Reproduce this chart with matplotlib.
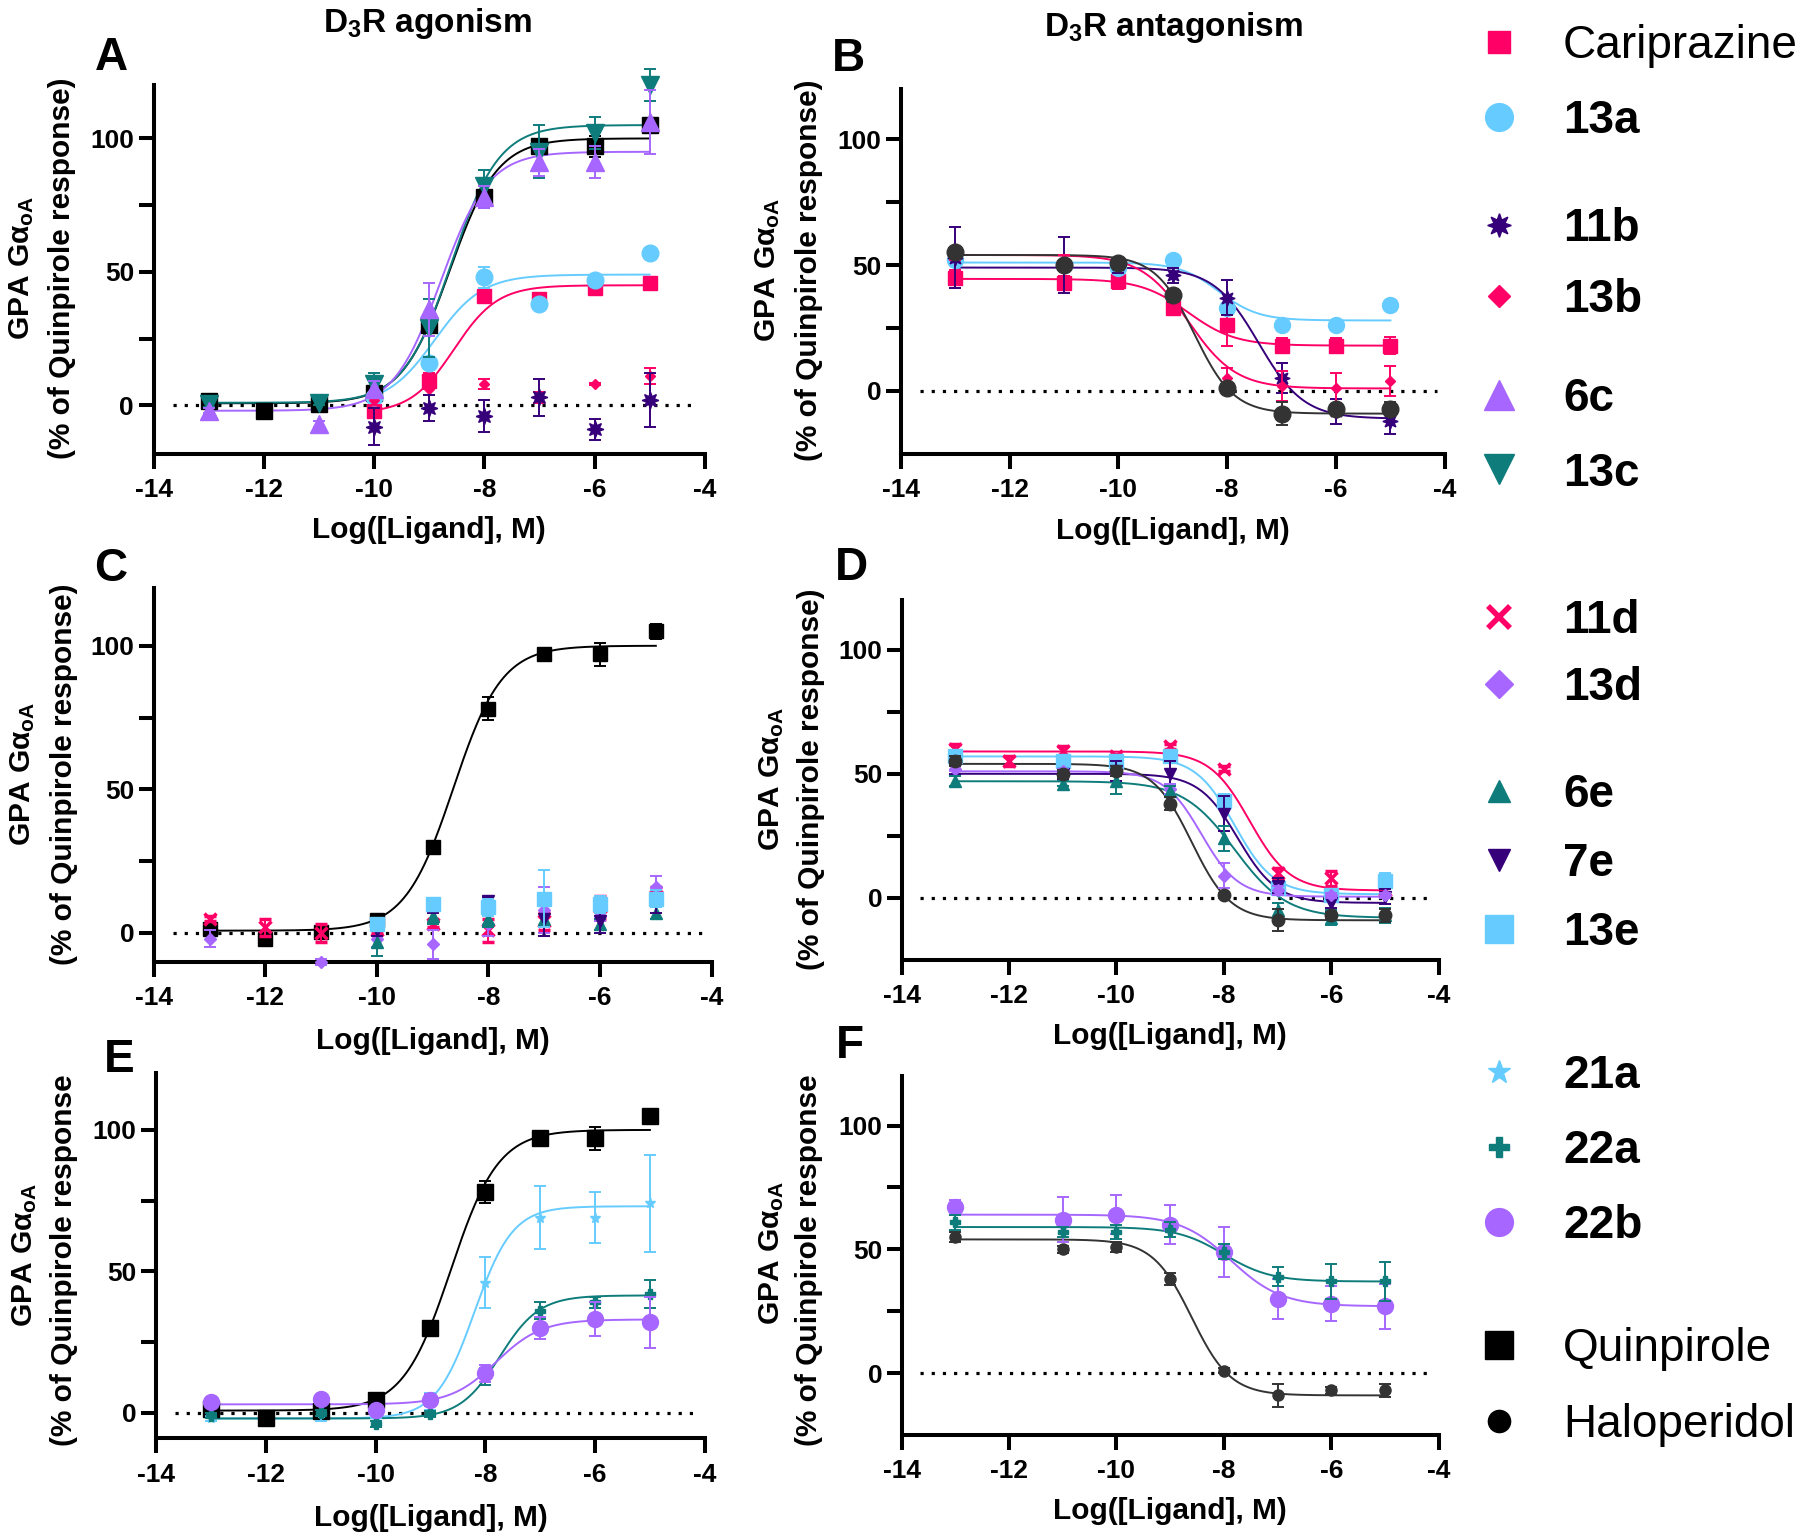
import numpy as np
import matplotlib
matplotlib.use('Agg')
import matplotlib.pyplot as plt
from matplotlib.lines import Line2D

plt.rcParams['font.family'] = ['Liberation Sans', 'DejaVu Sans']
plt.rcParams['font.weight'] = 'bold'
plt.rcParams['axes.unicode_minus'] = False
plt.rcParams['mathtext.fontset'] = 'custom'
plt.rcParams['mathtext.rm'] = 'Liberation Sans:bold'
plt.rcParams['mathtext.bf'] = 'Liberation Sans:bold'
plt.rcParams['mathtext.it'] = 'Liberation Sans:bold:italic'
plt.rcParams['mathtext.sf'] = 'Liberation Sans:bold'

W, H, DPI = 1800, 1540, 100

# ---------------- colours ----------------
PINK = '#FF0066'
LBLUE = '#66CCFF'
DPURPLE = '#36007A'
LAVENDER = '#A666FF'
TEAL = '#0E7C7B'
BLACK = '#000000'
HALOGRAY = '#333333'

# ---------------- data ----------------
# fit parameters: [bottom, top, logEC50/IC50, hill]  (negative hill = inhibition)
X_AG = [-13, -12, -11, -10, -9, -8, -7, -6, -5]
X_ANT = [-13, -11, -10, -9, -8, -7, -6, -5]
X_HIGH = [-10, -9, -8, -7, -6, -5]

QUIN_Y = [1.5, -2, 0.5, 4.5, 30, 78, 97, 97, 105]
QUIN_E = [1, 1, 1, 1.5, 2, 4, 2, 4, 2.5]
QUIN_FIT = [0.8, 100, -8.63, 1.0]

HALO_Y = [55, 50, 51, 38, 1, -9, -7, -7]
HALO_E = [2, 1.5, 2, 2.5, 1, 4.5, 1.5, 2.5]
HALO_FIT = [-9, 54, -8.6, -1.2]

# Panel A (agonism)
A_CARI_Y = [-2, 9, 41, 40, 44, 46]
A_CARI_E = [2, 3, 1.5, 1.5, 1.5, 1.5]
A_CARI_FIT = [-3, 45, -8.55, 1.1]
A_13A_Y = [3, 16, 48, 38, 47, 57]
A_13A_E = [1, 1, 4, 1.5, 1, 1]
A_13A_FIT = [0, 49, -8.9, 1.0]
A_13B_Y = [2, 6, 8, 3, 8, 11]
A_13B_E = [2, 2, 2, 2, 0.5, 3]
A_11B_Y = [-8, -1, -4, 3, -9, 2]
A_11B_E = [7, 5, 6, 7, 4, 10]
A_6C_Y = [-2, -7, 6, 36, 78, 91, 91, 106]
A_6C_E = [1, 1, 3, 10, 4, 5, 6, 12]
A_6C_FIT = [-2, 95, -8.79, 1.0]
A_13C_Y = [0.5, 1, 8, 29, 82, 95, 102, 120]
A_13C_E = [1, 1, 4, 11, 6, 10, 6, 6]
A_13C_FIT = [1, 105, -8.6, 1.0]

# Panel B (antagonism)
B_CARI_Y = [45, 43, 43.5, 33, 26, 18, 18, 18]
B_CARI_E = [3, 2.5, 3, 3, 8, 3, 3, 3.5]
B_CARI_FIT = [18, 44.5, -8.72, -1.0]
B_13A_Y = [52, 50, 49, 52, 33, 26, 26, 34]
B_13A_E = [1, 1, 1, 1.5, 2, 1, 1, 1]
B_13A_FIT = [28, 51, -8.15, -1.2]
B_11B_Y = [53, 50, 50, 46, 37, 5, -8, -12]
B_11B_E = [12, 11, 3, 3, 7, 6, 5, 5]
B_11B_FIT = [-11, 49, -7.42, -1.05]
B_13B_Y = [54, 52, 51, 34, 5, 2, 1, 4]
B_13B_E = [2, 2, 2, 2, 4, 6, 6, 6]
B_13B_FIT = [1, 54, -8.71, -1.0]

# Panel C (agonism)
C_11D_Y = [5, 2, 0, 1, 3, 1, 4, 9, 13]
C_11D_E = [1, 3, 3, 1, 1, 4, 3, 4, 3]
C_13D_Y = [-2, -10, -2, -4, 3, 8, 6, 16]
C_13D_E = [3, 1, 3, 5, 4, 8, 2, 4]
C_6E_Y = [-3, 6, 5, 5, 3, 7]
C_6E_E = [5, 3, 3, 6, 2, 2]
C_7E_Y = [1, 9, 11, 5, 4, 11]
C_7E_E = [2, 2, 1.5, 6, 4, 4]
C_13E_Y = [3, 10, 9, 12, 10, 12]
C_13E_E = [1, 2, 3, 10, 3, 3]

# Panel D (antagonism)
D_11D_Y = [60, 55, 59, 57, 61, 52, 10, 8, 3]
D_11D_E = [2, 2, 2, 1, 1, 1, 2, 3, 2]
D_11D_FIT = [3, 59, -7.52, -1.17]
D_13E_Y = [57, 55, 55, 57, 39, 4, 1, 7]
D_13E_E = [2, 2, 2, 2, 3, 2, 2, 3]
D_13E_FIT = [1.5, 57, -7.8, -1.19]
D_7E_Y = [52, 50, 51, 50, 34, 5, -2, 0.5]
D_7E_E = [2, 2, 4, 5, 7, 3, 2, 3]
D_7E_FIT = [-2, 50, -7.74, -1.2]
D_13D_Y = [52, 51, 51, 44, 9, 3, 1, 1]
D_13D_E = [1, 1, 1, 2, 5, 2, 1, 1]
D_13D_FIT = [0.5, 51, -8.42, -1.26]
D_6E_Y = [47, 46, 47, 43, 24, -5, -8, -7]
D_6E_E = [2, 1, 5, 2, 5, 3, 3, 3]
D_6E_FIT = [-8, 47, -7.8, -0.9]

# Panel E (agonism)
E_21A_Y = [-2, 0, -1, 4, 46, 69, 69, 74]
E_21A_E = [1, 3, 1, 3, 9, 11, 9, 17]
E_21A_FIT = [-2, 73, -8.2, 1.24]
E_22A_Y = [-1, 0, -4, -0.5, 13, 36, 39, 42]
E_22A_E = [1, 1, 1, 1, 3, 3, 2, 5]
E_22A_FIT = [-2, 41.5, -7.74, 1.2]
E_22B_Y = [4, 5, 1, 4.5, 14, 30, 33, 32]
E_22B_E = [1, 1, 1, 2, 3, 4, 6, 9]
E_22B_FIT = [3, 33, -7.8, 1.05]

# Panel F (antagonism)
F_22A_Y = [61, 57, 57, 58, 49, 39, 37, 37]
F_22A_E = [3, 2, 3, 3, 3, 4, 7, 8]
F_22A_FIT = [37, 59, -8.0, -1.0]
F_22B_Y = [67, 62, 64, 60, 49, 30, 28, 27]
F_22B_E = [3, 9, 8, 8, 10, 8, 7, 9]
F_22B_FIT = [27, 64, -7.87, -0.92]

X_TICKS = [-14, -12, -10, -8, -6, -4]
Y_MAJOR = [0, 50, 100]
Y_MINOR = [25, 75]
ZERO_LINE_X = (-13.65, -4.15)

LEGEND_NAMES = ['Cariprazine', '13a', '11b', '13b', '6c', '13c', '11d', '13d',
                '6e', '7e', '13e', '21a', '22a', '22b', 'Quinpirole', 'Haloperidol']


def fourpl(x, p):
    bottom, top, logx50, hill = p
    return bottom + (top - bottom) / (1 + 10 ** ((logx50 - x) * hill))


fig = plt.figure(figsize=(W / DPI, H / DPI), dpi=DPI)


def px_axes(x0, top, x1, bottom):
    return fig.add_axes([x0 / W, 1 - bottom / H, (x1 - x0) / W, (bottom - top) / H])


def style_axes(ax, ylim, label_y_px, box):
    ax.set_xlim(-14, -4)
    ax.set_ylim(*ylim)
    for s in ['top', 'right']:
        ax.spines[s].set_visible(False)
    for s in ['left', 'bottom']:
        ax.spines[s].set_linewidth(2.9)
        ax.spines[s].set_capstyle('projecting')
    ax.set_xticks(X_TICKS)
    ax.set_yticks(Y_MAJOR)
    ax.set_yticks(Y_MINOR, minor=True)
    ax.tick_params(axis='both', which='both', direction='out', length=11, width=2.9,
                   labelsize=19)
    ax.tick_params(axis='y', pad=3)
    ax.tick_params(axis='x', pad=6.5)
    for lab in ax.get_xticklabels() + ax.get_yticklabels():
        lab.set_fontweight('bold')
    ax.hlines(0, ZERO_LINE_X[0], ZERO_LINE_X[1], colors='black', lw=2.3,
              linestyles=(0, (1, 2.5)), zorder=1)
    ax.set_xlabel('Log([Ligand], M)', fontsize=21.5, fontweight='bold', va='center')
    x0, top, x1, bottom = box
    ax.xaxis.set_label_coords(0.5, -(label_y_px - bottom) / (bottom - top))


def series(ax, x, y, e, color, marker, ms, fit=None, mew=None, z=3):
    if fit is not None:
        xs = np.linspace(x[0], -5, 300)
        ax.plot(xs, fourpl(xs, fit), color=color, lw=1.4, zorder=2, clip_on=False)
    kw = {}
    if mew is not None:
        kw['mew'] = mew
    ax.errorbar(x, y, yerr=e, fmt='', marker=marker, linestyle='none', color=color,
                ms=ms, capsize=4.3, elinewidth=1.4, capthick=1.4, clip_on=False,
                zorder=z, **kw)


STAR8 = (8, 1, 0)

boxes = {
    'A': (153.5, 85, 704.8, 453.5),
    'B': (900.7, 88.8, 1444.8, 453.9),
    'C': (153.8, 588.3, 711.6, 961.7),
    'D': (901.6, 600, 1438.8, 960),
    'E': (156, 1073.3, 704.8, 1438.3),
    'F': (901.6, 1076, 1438.8, 1435),
}
ylims = {'A': (-18, 120), 'B': (-25, 120), 'C': (-10, 120),
         'D': (-25, 120), 'E': (-9, 120), 'F': (-25, 120)}
xlabel_y = {'A': 530, 'B': 531, 'C': 1041, 'D': 1036, 'E': 1518.5, 'F': 1511}

axs = {}
for k in 'ABCDEF':
    axs[k] = px_axes(*boxes[k])
    style_axes(axs[k], ylims[k], xlabel_y[k], boxes[k])

# Panel A
ax = axs['A']
series(ax, X_AG, QUIN_Y, QUIN_E, BLACK, 's', 12, QUIN_FIT, z=3)
series(ax, X_HIGH, A_CARI_Y, A_CARI_E, PINK, 's', 10.5, A_CARI_FIT, z=4)
series(ax, X_HIGH, A_13A_Y, A_13A_E, LBLUE, 'o', 12, A_13A_FIT, z=5)
series(ax, X_HIGH, A_13B_Y, A_13B_E, PINK, 'D', 5.5, z=6)
series(ax, X_HIGH, A_11B_Y, A_11B_E, DPURPLE, STAR8, 12, z=7)
series(ax, X_ANT, A_13C_Y, A_13C_E, TEAL, 'v', 13, A_13C_FIT, z=8)
series(ax, X_ANT, A_6C_Y, A_6C_E, LAVENDER, '^', 13, A_6C_FIT, z=9)

# Panel B
ax = axs['B']
series(ax, X_ANT, B_CARI_Y, B_CARI_E, PINK, 's', 10, B_CARI_FIT, z=3)
series(ax, X_ANT, B_13A_Y, B_13A_E, LBLUE, 'o', 11.5, B_13A_FIT, z=4)
series(ax, X_ANT, B_11B_Y, B_11B_E, DPURPLE, STAR8, 11, B_11B_FIT, z=5)
series(ax, X_ANT, B_13B_Y, B_13B_E, PINK, 'D', 5.5, B_13B_FIT, z=6)
series(ax, X_ANT, HALO_Y, HALO_E, HALOGRAY, 'o', 12, HALO_FIT, z=7)

# Panel C
ax = axs['C']
series(ax, X_AG, QUIN_Y, QUIN_E, BLACK, 's', 10.5, QUIN_FIT, z=3)
series(ax, X_AG, C_11D_Y, C_11D_E, PINK, 'x', 8, mew=2.5, z=4)
series(ax, X_ANT, C_13D_Y, C_13D_E, LAVENDER, 'D', 6.5, z=5)
series(ax, X_HIGH, C_6E_Y, C_6E_E, TEAL, '^', 9, z=6)
series(ax, X_HIGH, C_7E_Y, C_7E_E, DPURPLE, 'v', 9, z=7)
series(ax, X_HIGH, C_13E_Y, C_13E_E, LBLUE, 's', 10, z=8)

# Panel D
ax = axs['D']
series(ax, X_AG, D_11D_Y, D_11D_E, PINK, 'x', 8, D_11D_FIT, mew=2.5, z=3)
series(ax, X_ANT, D_13E_Y, D_13E_E, LBLUE, 's', 10, D_13E_FIT, z=4)
series(ax, X_ANT, D_7E_Y, D_7E_E, DPURPLE, 'v', 9, D_7E_FIT, z=5)
series(ax, X_ANT, D_13D_Y, D_13D_E, LAVENDER, 'D', 6.5, D_13D_FIT, z=6)
series(ax, X_ANT, D_6E_Y, D_6E_E, TEAL, '^', 9, D_6E_FIT, z=7)
series(ax, X_ANT, HALO_Y, HALO_E, HALOGRAY, 'o', 9, HALO_FIT, z=8)

# Panel E
ax = axs['E']
series(ax, X_AG, QUIN_Y, QUIN_E, BLACK, 's', 11, QUIN_FIT, z=3)
series(ax, X_ANT, E_21A_Y, E_21A_E, LBLUE, '*', 8, E_21A_FIT, z=4)
series(ax, X_ANT, E_22A_Y, E_22A_E, TEAL, 'P', 7, E_22A_FIT, z=5)
series(ax, X_ANT, E_22B_Y, E_22B_E, LAVENDER, 'o', 11.5, E_22B_FIT, z=6)

# Panel F
ax = axs['F']
series(ax, X_ANT, HALO_Y, HALO_E, HALOGRAY, 'o', 8, HALO_FIT, z=3)
series(ax, X_ANT, F_22A_Y, F_22A_E, TEAL, 'P', 7, F_22A_FIT, z=5)
series(ax, X_ANT, F_22B_Y, F_22B_E, LAVENDER, 'o', 11.5, F_22B_FIT, z=4)

# ---------------- y labels ----------------
YLAB1 = 'GPA G\u03b1$_{\\mathrm{oA}}$'
YLAB2 = '(% of Quinpirole response)'
YLAB2_CUT = '(% of Quinpirole response'
ylab_pos = {
    'A': (21.7, 61.7, 268, 268, YLAB2),
    'B': (767.5, 809, 270, 270, YLAB2),
    'C': (23, 64, 774, 774, YLAB2),
    'D': (772, 811, 779, 779, YLAB2),
    'E': (25, 64, 1255, 1260, YLAB2_CUT),
    'F': (772, 809, 1253, 1260, YLAB2_CUT),
}
for k, (xa, xb, ya, yb, t2) in ylab_pos.items():
    fig.text(xa / W, 1 - ya / H, YLAB1, rotation=90, ha='center', va='center',
             fontsize=21.5, fontweight='bold')
    fig.text(xb / W, 1 - yb / H, t2, rotation=90, ha='center', va='center',
             fontsize=21.5, fontweight='bold')

# ---------------- panel letters and titles ----------------
letters = {'A': (111.7, 70), 'B': (848, 70.6), 'C': (111, 580.7),
           'D': (851, 580), 'E': (119, 1071.7), 'F': (850, 1058.3)}
for k, (x, y) in letters.items():
    fig.text(x / W, 1 - y / H, k, ha='center', va='baseline', fontsize=33,
             fontweight='bold')

fig.text(427 / W, 1 - 31.7 / H, 'D$_{3}$R agonism', ha='center', va='baseline',
         fontsize=24, fontweight='bold')
fig.text(1173.5 / W, 1 - 35.7 / H, 'D$_{3}$R antagonism', ha='center', va='baseline',
         fontsize=24, fontweight='bold')

# ---------------- legend ----------------
leg_style = {
    'Cariprazine': (PINK, 's', 16, None),
    '13a': (LBLUE, 'o', 20, None),
    '11b': (DPURPLE, STAR8, 17, None),
    '13b': (PINK, 'D', 11, None),
    '6c': (LAVENDER, '^', 21, None),
    '13c': (TEAL, 'v', 21, None),
    '11d': (PINK, 'x', 16, 4),
    '13d': (LAVENDER, 'D', 14, None),
    '6e': (TEAL, '^', 16, None),
    '7e': (DPURPLE, 'v', 16, None),
    '13e': (LBLUE, 's', 20, None),
    '21a': (LBLUE, '*', 17, None),
    '22a': (TEAL, 'P', 15, None),
    '22b': (LAVENDER, 'o', 20, None),
    'Quinpirole': (BLACK, 's', 19.5, None),
    'Haloperidol': (BLACK, 'o', 16, None),
}
REGULAR = {'Cariprazine', 'Quinpirole', 'Haloperidol'}
leg_groups = [
    (LEGEND_NAMES[0:2], 83.5, 0.68),
    (LEGEND_NAMES[2:4], 264.5, 0.59),
    (LEGEND_NAMES[4:6], 436.5, 0.655),
    (LEGEND_NAMES[6:8], 654.5, 0.49),
    (LEGEND_NAMES[8:11], 864, 0.54),
    (LEGEND_NAMES[11:14], 1151, 0.67),
    (LEGEND_NAMES[14:16], 1387, 0.68),
]
for names, yc, ls in leg_groups:
    handles = []
    for n in names:
        c, m, ms, mew = leg_style[n]
        kw = {} if mew is None else {'mew': mew}
        handles.append(Line2D([0], [0], ls='none', marker=m, color=c, ms=ms, **kw))
    leg = fig.legend(handles, names, loc='center left',
                     bbox_to_anchor=(1475.8 / W, 1 - yc / H), frameon=False,
                     fontsize=33, borderpad=0, borderaxespad=0, handlelength=1.0,
                     handletextpad=0.9, labelspacing=ls)
    for t, n in zip(leg.get_texts(), names):
        t.set_fontweight('normal' if n in REGULAR else 'bold')

fig.savefig('out.png', dpi=DPI)
